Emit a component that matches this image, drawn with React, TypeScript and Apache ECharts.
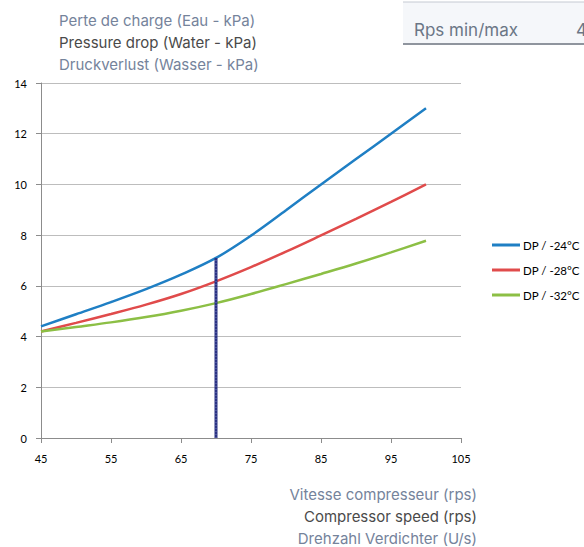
import React, { useEffect, useRef } from "react";
import * as echarts from "echarts";

const speeds = [45, 50, 55, 60, 65, 70, 75, 80, 85, 90, 95, 100];
const dp24 = [4.4, 4.88, 5.36, 5.87, 6.44, 7.1, 7.98, 8.98, 10.0, 11.0, 12.0, 13.0];
const dp28 = [4.2, 4.54, 4.89, 5.26, 5.68, 6.18, 6.74, 7.35, 7.99, 8.64, 9.31, 10.0];
const dp32 = [4.2, 4.38, 4.56, 4.77, 5.02, 5.32, 5.68, 6.07, 6.47, 6.88, 7.32, 7.78];
const seriesNames = ["DP / -24°C", "DP / -28°C", "DP / -32°C"];
const seriesColors = ["#1f7fc4", "#e04b4b", "#8cbf45"];
const markerSpeed = 70;
const markerValue = 7.1;
const yTitles = ["Perte de charge (Eau - kPa)", "Pressure drop (Water - kPa)", "Druckverlust (Wasser - kPa)"];
const xTitles = ["Vitesse compresseur (rps)", "Compressor speed (rps)", "Drehzahl Verdichter (U/s)"];
const boxLabel = "Rps min/max";
const boxValue = "4";

export default function App() {
  const ref = useRef<HTMLDivElement>(null);
  useEffect(() => {
    document.body.style.margin = "0";
    if (!ref.current) return;
    const chart = echarts.init(ref.current, undefined, { renderer: "svg" });
    const allSeries = [dp24, dp28, dp32];
    const titleFont = "Inter, 'Open Sans', sans-serif";
    const labelFont = "Lato, 'Open Sans', sans-serif";
    chart.setOption({
      animation: false,
      backgroundColor: "#ffffff",
      grid: { left: 41, right: 123, top: 83, bottom: 109, containLabel: false },
      legend: {
        orient: "vertical",
        left: 492,
        top: 239,
        padding: 0,
        itemWidth: 28,
        itemHeight: 3,
        itemGap: 13,
        icon: "rect",
        data: seriesNames,
        textStyle: { fontSize: 11.5, color: "#000", fontFamily: labelFont, padding: [0, 0, 0, -2] },
      },
      xAxis: {
        type: "value",
        min: 45,
        max: 105,
        interval: 10,
        splitLine: { show: false },
        axisLine: { lineStyle: { color: "#8c8c8c", width: 1 } },
        axisTick: { show: true, length: 5, lineStyle: { color: "#8c8c8c" } },
        axisLabel: { fontSize: 11, color: "#000", fontFamily: labelFont, margin: 15 },
      },
      yAxis: {
        type: "value",
        min: 0,
        max: 14,
        interval: 2,
        splitLine: { show: true, lineStyle: { color: "#bdbdbd", width: 1 } },
        axisLine: { show: true, lineStyle: { color: "#8c8c8c", width: 1 } },
        axisTick: { show: true, length: 5, lineStyle: { color: "#8c8c8c" } },
        axisLabel: { fontSize: 11, color: "#000", fontFamily: labelFont, margin: 14 },
      },
      series: [
        ...allSeries.map((vals, i) => ({
          name: seriesNames[i],
          type: "line",
          smooth: 0.35,
          showSymbol: false,
          symbol: "none",
          data: speeds.map((s, j) => [s, vals[j]]),
          lineStyle: { color: seriesColors[i], width: 2.5 },
          itemStyle: { color: seriesColors[i] },
          z: 3,
        })),
        {
          name: "marker",
          type: "line",
          showSymbol: false,
          symbol: "none",
          data: [[markerSpeed, 0], [markerSpeed, markerValue]],
          lineStyle: { color: "#2a3283", width: 3 },
          z: 4,
        },
        {
          name: "marker-dots",
          type: "line",
          showSymbol: false,
          symbol: "none",
          data: [[markerSpeed, 0], [markerSpeed, markerValue]],
          lineStyle: { color: "#7078b8", width: 1, type: [1, 2] },
          z: 5,
        },
      ],
      graphic: [
        { type: "rect", shape: { x: 403, y: 2, width: 181, height: 42 }, style: { fill: "#f5f7fa" } },
        { type: "line", shape: { x1: 403, y1: 2, x2: 584, y2: 2 }, style: { stroke: "#c5cad2", lineWidth: 1 } },
        { type: "line", shape: { x1: 403, y1: 44, x2: 584, y2: 44 }, style: { stroke: "#8f959e", lineWidth: 2 } },
        { type: "text", x: 414, y: 30, style: { text: boxLabel, fontSize: 17, fontFamily: titleFont, fill: "#6b7686", verticalAlign: "middle" } },
        { type: "text", x: 576, y: 30, style: { text: boxValue, fontSize: 17, fontFamily: titleFont, fill: "#6b7686", verticalAlign: "middle" } },
        ...yTitles.map((t, i) => ({
          type: "text",
          x: 59,
          y: 20 + i * 22,
          style: { text: t, fontSize: 15, fontFamily: titleFont, fill: i === 1 ? "#4a4a4a" : "#75839b", verticalAlign: "middle" },
        })),
        ...xTitles.map((t, i) => ({
          type: "text",
          x: 477,
          y: 494 + i * 22,
          style: { text: t, fontSize: 15, fontFamily: titleFont, fill: i === 1 ? "#4a4a4a" : "#75839b", align: "right", verticalAlign: "middle" },
        })),
      ],
    });
    return () => chart.dispose();
  }, []);
  return <div ref={ref} style={{ width: 584, height: 547 }} />;
}
